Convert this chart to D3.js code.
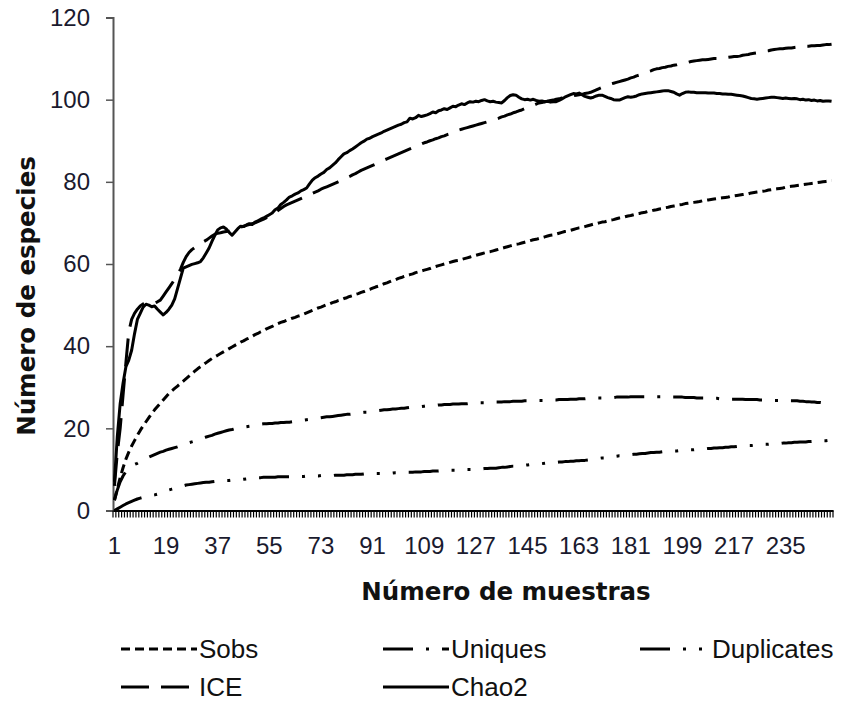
<!DOCTYPE html>
<html>
<head>
<meta charset="utf-8">
<script src="https://cdn.jsdelivr.net/npm/d3@7"></script>
<style>
  body { margin: 0; background: #fff; }
  text { font-family: "Liberation Sans", Arial, sans-serif; fill: #111; }
</style>
</head>
<body>
<div id="chart"></div>
<script>
// Samples 1..251 (category axis)
const categories = d3.range(1, 252);
const xTickLabels = [1, 19, 37, 55, 73, 91, 109, 127, 145, 163, 181, 199, 217, 235];
const yTicks = [0, 20, 40, 60, 80, 100, 120];

// Series
const sobs = [
  2.5, 5.3, 8.0, 10.4, 12.5, 14.2, 15.7, 17.0, 18.3, 19.5,
  20.6, 21.6, 22.6, 23.6, 24.5, 25.3, 26.1, 26.9, 27.7, 28.5,
  29.1, 29.7, 30.3, 30.9, 31.5, 32.1, 32.7, 33.3, 33.9, 34.5,
  35.0, 35.5, 36.0, 36.5, 37.0, 37.4, 37.8, 38.2, 38.6, 39.0,
  39.4, 39.8, 40.2, 40.6, 41.0, 41.3, 41.7, 42.0, 42.4, 42.8,
  43.1, 43.5, 43.8, 44.2, 44.5, 44.8, 45.2, 45.5, 45.8, 46.0,
  46.3, 46.5, 46.8, 47.0, 47.3, 47.5, 47.8, 48.1, 48.4, 48.7,
  49.0, 49.3, 49.5, 49.8, 50.1, 50.3, 50.6, 50.8, 51.1, 51.3,
  51.6, 51.8, 52.1, 52.3, 52.6, 52.8, 53.1, 53.3, 53.6, 53.8,
  54.1, 54.4, 54.6, 54.9, 55.2, 55.4, 55.7, 56.0, 56.2, 56.5,
  56.7, 57.0, 57.2, 57.4, 57.6, 57.9, 58.1, 58.3, 58.5, 58.7,
  58.9, 59.2, 59.4, 59.6, 59.8, 60.0, 60.2, 60.4, 60.6, 60.8,
  60.9, 61.1, 61.3, 61.5, 61.7, 61.9, 62.1, 62.3, 62.5, 62.7,
  62.9, 63.0, 63.2, 63.4, 63.6, 63.8, 64.0, 64.2, 64.4, 64.6,
  64.8, 64.9, 65.1, 65.3, 65.5, 65.7, 65.9, 66.0, 66.2, 66.4,
  66.6, 66.8, 67.0, 67.1, 67.3, 67.5, 67.7, 67.9, 68.0, 68.2,
  68.4, 68.6, 68.8, 68.9, 69.1, 69.3, 69.5, 69.7, 69.8, 70.0,
  70.2, 70.3, 70.5, 70.7, 70.8, 71.0, 71.2, 71.3, 71.5, 71.7,
  71.8, 72.0, 72.2, 72.3, 72.5, 72.6, 72.8, 72.9, 73.1, 73.2,
  73.4, 73.5, 73.7, 73.8, 74.0, 74.1, 74.2, 74.4, 74.5, 74.7,
  74.8, 74.9, 75.0, 75.1, 75.2, 75.4, 75.5, 75.6, 75.7, 75.8,
  75.9, 76.0, 76.1, 76.2, 76.3, 76.5, 76.6, 76.7, 76.8, 76.9,
  77.0, 77.1, 77.3, 77.4, 77.5, 77.6, 77.7, 77.8, 78.0, 78.1,
  78.2, 78.3, 78.4, 78.5, 78.7, 78.8, 78.9, 79.0, 79.1, 79.2,
  79.3, 79.4, 79.5, 79.6, 79.7, 79.8, 79.9, 80.0, 80.1, 80.2,
  80.3
];

const uniques = [
  2.5, 5.0, 7.0, 8.4, 9.5, 10.2, 10.8, 11.2, 11.5, 11.9,
  12.3, 12.7, 13.0, 13.3, 13.6, 13.9, 14.2, 14.4, 14.7, 14.9,
  15.1, 15.3, 15.5, 15.8, 16.0, 16.2, 16.5, 16.7, 16.9, 17.2,
  17.4, 17.7, 17.9, 18.1, 18.3, 18.6, 18.8, 19.0, 19.2, 19.4,
  19.6, 19.7, 19.9, 20.0, 20.2, 20.3, 20.4, 20.5, 20.6, 20.8,
  20.9, 21.0, 21.1, 21.1, 21.2, 21.2, 21.3, 21.3, 21.4, 21.4,
  21.5, 21.5, 21.6, 21.7, 21.8, 21.9, 22.0, 22.1, 22.2, 22.3,
  22.4, 22.5, 22.6, 22.7, 22.8, 22.8, 22.9, 23.0, 23.1, 23.2,
  23.3, 23.4, 23.4, 23.5, 23.6, 23.7, 23.8, 23.9, 23.9, 24.0,
  24.1, 24.2, 24.3, 24.4, 24.5, 24.5, 24.6, 24.7, 24.7, 24.8,
  24.9, 24.9, 25.0, 25.1, 25.1, 25.2, 25.3, 25.3, 25.4, 25.5,
  25.5, 25.6, 25.6, 25.7, 25.7, 25.8, 25.8, 25.8, 25.9, 25.9,
  25.9, 26.0, 26.0, 26.0, 26.1, 26.1, 26.1, 26.2, 26.2, 26.2,
  26.3, 26.3, 26.3, 26.4, 26.4, 26.4, 26.5, 26.5, 26.5, 26.6,
  26.6, 26.6, 26.6, 26.7, 26.7, 26.7, 26.7, 26.8, 26.8, 26.8,
  26.8, 26.9, 26.9, 26.9, 26.9, 27.0, 27.0, 27.0, 27.0, 27.1,
  27.1, 27.1, 27.2, 27.2, 27.2, 27.3, 27.3, 27.3, 27.4, 27.4,
  27.4, 27.5, 27.5, 27.5, 27.5, 27.6, 27.6, 27.6, 27.6, 27.6,
  27.7, 27.7, 27.7, 27.7, 27.7, 27.7, 27.7, 27.7, 27.7, 27.7,
  27.7, 27.7, 27.6, 27.6, 27.6, 27.6, 27.6, 27.6, 27.6, 27.5,
  27.5, 27.5, 27.5, 27.4, 27.4, 27.4, 27.4, 27.3, 27.3, 27.3,
  27.3, 27.2, 27.2, 27.2, 27.2, 27.1, 27.1, 27.1, 27.1, 27.1,
  27.0, 27.0, 27.0, 27.0, 27.0, 26.9, 26.9, 26.9, 26.9, 26.9,
  26.8, 26.8, 26.8, 26.8, 26.8, 26.7, 26.7, 26.7, 26.7, 26.6,
  26.6, 26.5, 26.5, 26.4, 26.4, 26.3, 26.3, 26.2, 26.2, 26.1,
  26.1
];

const duplicates = [
  0.0, 0.4, 0.8, 1.2, 1.6, 1.9, 2.2, 2.5, 2.8, 3.0,
  3.2, 3.3, 3.5, 3.7, 3.8, 4.0, 4.3, 4.5, 4.8, 5.0,
  5.2, 5.4, 5.6, 5.8, 6.0, 6.2, 6.3, 6.4, 6.5, 6.6,
  6.7, 6.8, 6.9, 6.9, 7.0, 7.1, 7.1, 7.2, 7.2, 7.3,
  7.3, 7.4, 7.4, 7.5, 7.5, 7.6, 7.7, 7.8, 7.9, 8.0,
  8.0, 8.0, 8.1, 8.1, 8.1, 8.1, 8.1, 8.2, 8.2, 8.2,
  8.2, 8.2, 8.2, 8.3, 8.3, 8.3, 8.3, 8.4, 8.4, 8.4,
  8.4, 8.4, 8.5, 8.5, 8.5, 8.5, 8.5, 8.6, 8.6, 8.6,
  8.6, 8.7, 8.7, 8.7, 8.8, 8.8, 8.8, 8.9, 8.9, 8.9,
  8.9, 9.0, 9.0, 9.0, 9.1, 9.1, 9.1, 9.1, 9.2, 9.2,
  9.2, 9.2, 9.3, 9.3, 9.3, 9.4, 9.4, 9.4, 9.5, 9.5,
  9.5, 9.6, 9.6, 9.6, 9.7, 9.7, 9.7, 9.8, 9.8, 9.8,
  9.9, 9.9, 9.9, 10.0, 10.0, 10.0, 10.1, 10.1, 10.1, 10.2,
  10.2, 10.3, 10.3, 10.3, 10.4, 10.5, 10.5, 10.6, 10.7, 10.8,
  10.8, 10.9, 11.0, 11.0, 11.1, 11.2, 11.2, 11.3, 11.4, 11.4,
  11.5, 11.6, 11.6, 11.7, 11.7, 11.8, 11.8, 11.9, 11.9, 12.0,
  12.0, 12.1, 12.1, 12.2, 12.2, 12.3, 12.4, 12.5, 12.6, 12.7,
  12.8, 12.8, 12.9, 13.0, 13.1, 13.2, 13.3, 13.3, 13.4, 13.5,
  13.6, 13.7, 13.7, 13.8, 13.9, 13.9, 14.0, 14.1, 14.1, 14.2,
  14.2, 14.3, 14.3, 14.4, 14.4, 14.5, 14.5, 14.6, 14.6, 14.7,
  14.7, 14.8, 14.8, 14.9, 14.9, 15.0, 15.0, 15.1, 15.1, 15.2,
  15.2, 15.3, 15.3, 15.4, 15.4, 15.5, 15.5, 15.6, 15.6, 15.7,
  15.7, 15.8, 15.8, 15.9, 15.9, 16.0, 16.0, 16.1, 16.1, 16.2,
  16.2, 16.3, 16.3, 16.4, 16.4, 16.5, 16.5, 16.6, 16.6, 16.7,
  16.7, 16.7, 16.8, 16.8, 16.9, 16.9, 16.9, 17.0, 17.0, 17.1,
  17.1
];

const ice = [
  6.0, 14.0, 20.0, 28.0, 36.0, 43.5, 46.5, 48.0, 49.0, 49.8,
  50.3, 50.5, 50.6, 50.4, 50.5, 50.8, 51.2, 52.2, 53.2, 54.2,
  55.2, 56.3, 57.4, 58.7, 60.4, 61.8, 62.8, 63.5, 64.0, 64.5,
  65.0, 65.4, 65.8, 66.3, 66.8, 67.2, 67.5, 67.6, 67.8, 67.9,
  68.0, 68.2, 68.5, 68.8, 69.0, 69.2, 69.4, 69.6, 69.8, 70.0,
  70.3, 70.6, 70.9, 71.3, 71.6, 72.0, 72.5, 73.0, 73.5, 74.0,
  74.4, 74.7, 75.0, 75.3, 75.6, 75.9, 76.2, 76.5, 76.8, 77.2,
  77.5, 77.8, 78.2, 78.5, 78.8, 79.1, 79.4, 79.7, 80.0, 80.3,
  80.6, 81.0, 81.3, 81.7, 82.0, 82.4, 82.8, 83.1, 83.4, 83.7,
  84.0, 84.3, 84.6, 85.0, 85.3, 85.6, 85.9, 86.2, 86.5, 86.8,
  87.1, 87.4, 87.7, 88.0, 88.3, 88.6, 89.0, 89.2, 89.5, 89.7,
  90.0, 90.2, 90.5, 90.7, 91.0, 91.2, 91.5, 91.7, 92.0, 92.3,
  92.6, 92.8, 93.0, 93.2, 93.4, 93.6, 93.8, 94.0, 94.2, 94.4,
  94.6, 94.9, 95.1, 95.3, 95.5, 95.8, 96.0, 96.3, 96.5, 96.8,
  97.0, 97.3, 97.5, 97.8, 98.0, 98.3, 98.6, 98.9, 99.2, 99.3,
  99.5, 99.6, 99.8, 99.9, 100.1, 100.2, 100.4, 100.5, 100.7, 100.8,
  101.0, 101.1, 101.2, 101.3, 101.5, 101.6, 101.8, 102.1, 102.4, 102.7,
  103.0, 103.3, 103.6, 103.8, 104.0, 104.2, 104.4, 104.6, 104.8, 105.0,
  105.3, 105.5, 105.8, 106.0, 106.3, 106.5, 106.8, 107.0, 107.3, 107.5,
  107.6, 107.8, 107.9, 108.1, 108.2, 108.4, 108.5, 108.7, 108.8, 109.0,
  109.1, 109.3, 109.4, 109.5, 109.6, 109.7, 109.7, 109.8, 109.9, 110.0,
  110.0, 110.1, 110.2, 110.3, 110.3, 110.4, 110.5, 110.5, 110.6, 110.8,
  110.9, 111.0, 111.2, 111.3, 111.4, 111.6, 111.7, 111.8, 111.9, 112.1,
  112.2, 112.3, 112.4, 112.4, 112.5, 112.6, 112.6, 112.7, 112.8, 112.8,
  112.9, 113.0, 113.0, 113.1, 113.1, 113.2, 113.2, 113.3, 113.4, 113.4,
  113.5
];

const chao2 = [
  7.0, 18.0, 26.0, 31.0, 35.0, 36.6, 39.0, 43.0, 46.5, 48.0,
  49.5, 50.2, 50.0, 49.6, 49.8, 49.0, 48.3, 47.6, 48.2, 49.0,
  50.0, 51.5, 54.0, 56.5, 59.0, 59.3, 59.6, 59.9, 60.1, 60.3,
  60.6, 61.5, 62.7, 63.9, 65.5, 67.0, 68.3, 68.8, 69.0, 68.5,
  67.7, 67.0, 67.8, 68.6, 69.2, 69.1, 69.5, 69.8, 69.6, 70.2,
  70.5, 70.9, 71.2, 71.6, 72.0, 72.4, 73.2, 73.6, 74.5, 75.0,
  75.6, 76.3, 76.6, 77.0, 77.3, 77.8, 78.1, 78.5, 79.5, 80.4,
  81.0, 81.4, 81.9, 82.3, 83.0, 83.4, 84.0, 84.6, 85.4, 86.1,
  86.8, 87.1, 87.6, 88.0, 88.5, 89.0, 89.5, 89.9, 90.4, 90.6,
  91.0, 91.3, 91.6, 91.9, 92.3, 92.6, 92.9, 93.2, 93.5, 93.8,
  94.0, 94.4, 94.6, 95.5, 95.3, 95.6, 96.2, 95.9, 96.1, 96.3,
  96.6, 97.0, 96.8, 97.3, 97.5, 97.8, 97.6, 98.0, 98.4, 98.3,
  98.7, 99.0, 98.8, 99.2, 99.5, 99.4, 99.6, 99.5, 99.8, 100.0,
  99.7, 99.5, 99.6, 99.4, 99.3, 99.2, 99.8, 100.5, 101.0, 101.2,
  101.1, 100.6, 100.2, 100.0, 100.1, 99.9, 100.1, 99.8, 99.6, 99.7,
  99.5, 99.6, 99.4, 99.5, 99.5, 99.8, 100.2, 100.6, 100.9, 101.2,
  101.5, 101.4, 101.6, 101.2, 100.8, 100.6, 100.4, 100.6, 100.9, 101.1,
  101.1, 100.8, 100.5, 100.3, 100.0, 99.9, 99.9, 100.2, 100.5, 100.7,
  100.6, 100.7, 100.9, 101.2, 101.4, 101.5, 101.6, 101.7, 101.8, 101.9,
  102.0, 102.1, 102.2, 102.2, 102.0, 101.8, 101.4, 101.1, 101.5, 101.8,
  101.9, 101.8, 101.8, 101.7, 101.7, 101.7, 101.7, 101.6, 101.6, 101.6,
  101.5, 101.5, 101.4, 101.4, 101.3, 101.3, 101.2, 101.1, 101.0, 100.9,
  100.7, 100.5, 100.3, 100.2, 100.1, 100.2, 100.3, 100.4, 100.5, 100.6,
  100.6, 100.5, 100.4, 100.3, 100.4, 100.3, 100.2, 100.3, 100.2, 100.0,
  100.1, 99.9, 100.0, 99.8, 99.9, 99.7, 99.8, 99.6, 99.7, 99.7,
  99.6
];

const seriesNames = ["Sobs", "Uniques", "Duplicates", "ICE", "Chao2"];
const seriesValues = [sobs, uniques, duplicates, ice, chao2];
// dash patterns: short dash, long dash-dot, long dash-dot-dot, long dash, solid
const dashes = ["9,5", "30,13,3,13", "30,13,3,13,3,13", "28,12", null];

// Create SVG and plot frame
const svg = d3
  .select("#chart")
  .append("svg")
  .attr("width", 841)
  .attr("height", 704);
const plot = { left: 113, right: 833, top: 17.5, bottom: 510.5 };

// Scales
const xBand = d3
  .scaleBand()
  .domain(categories)
  .range([plot.left, plot.right]);
const xPos = c => xBand(c) + xBand.bandwidth() / 2;
const yScale = d3
  .scaleLinear()
  .domain([0, 120])
  .range([plot.bottom, plot.top]);

// Y axis
const yAxis = svg
  .append("g")
  .attr("transform", `translate(${plot.left},0)`)
  .call(d3.axisLeft(yScale).tickValues(yTicks).tickSize(7).tickPadding(16));
yAxis.select(".domain").attr("stroke", "#555").attr("stroke-width", 2);
yAxis.selectAll(".tick line").attr("stroke", "#555").attr("stroke-width", 1.5);
yAxis.selectAll(".tick text")
  .style("font-family", "'Liberation Sans', Arial, sans-serif")
  .style("font-size", "24px")
  .style("fill", "#1a1a2e");

// X axis: tick marks between categories, labels every 18 samples
const xTicks = svg.append("g");
xTicks
  .selectAll("line")
  .data(categories.concat([null]))
  .join("line")
  .attr("x1", d => (d === null ? plot.right : xBand(d)))
  .attr("x2", d => (d === null ? plot.right : xBand(d)))
  .attr("y1", plot.bottom)
  .attr("y2", plot.bottom + 7)
  .attr("stroke", "#000")
  .attr("stroke-width", 1.2);

const xAxis = svg
  .append("g")
  .attr("transform", `translate(0,${plot.bottom})`)
  .call(d3.axisBottom(xBand).tickValues(xTickLabels).tickSize(0).tickPadding(26));
xAxis.select(".domain").attr("stroke", "#000").attr("stroke-width", 2);
xAxis.selectAll(".tick text")
  .style("font-family", "'Liberation Sans', Arial, sans-serif")
  .style("font-size", "24px")
  .style("fill", "#1a1a2e");

// Axis titles
svg.append("text")
  .attr("x", 506)
  .attr("y", 600)
  .attr("text-anchor", "middle")
  .style("font-family", "'DejaVu Sans', Verdana, sans-serif")
  .style("font-weight", "bold")
  .style("font-size", "24.5px")
  .text("Número de muestras");

svg.append("text")
  .attr("transform", "translate(35,296) rotate(-90)")
  .attr("text-anchor", "middle")
  .style("font-family", "'DejaVu Sans', Verdana, sans-serif")
  .style("font-weight", "bold")
  .style("font-size", "24.5px")
  .text("Número de especies");

// Lines
const line = d3
  .line()
  .x((d, i) => xPos(categories[i]))
  .y(d => yScale(d));

svg.append("g")
  .selectAll("path")
  .data(seriesValues)
  .join("path")
  .attr("d", d => line(d))
  .attr("fill", "none")
  .attr("stroke", "#000")
  .attr("stroke-width", 3)
  .attr("stroke-linejoin", "round")
  .attr("stroke-dasharray", (d, i) => dashes[i]);

// Legend
const legendCols = [121, 383, 640];
const legendLens = [76, 66, 70];
const legendRows = [649, 687];
const legend = svg
  .append("g")
  .selectAll("g")
  .data(seriesNames)
  .join("g")
  .attr("transform", (d, i) => `translate(${legendCols[i % 3]},${legendRows[Math.floor(i / 3)]})`);

legend.append("line")
  .attr("x1", 0)
  .attr("x2", (d, i) => legendLens[i % 3])
  .attr("stroke", "#000")
  .attr("stroke-width", 3)
  .attr("stroke-dasharray", (d, i) => dashes[i]);

legend.append("text")
  .attr("x", (d, i) => legendLens[i % 3] + 2)
  .attr("dy", "0.35em")
  .style("font-size", "26px")
  .text(d => d);
</script>
</body>
</html>
